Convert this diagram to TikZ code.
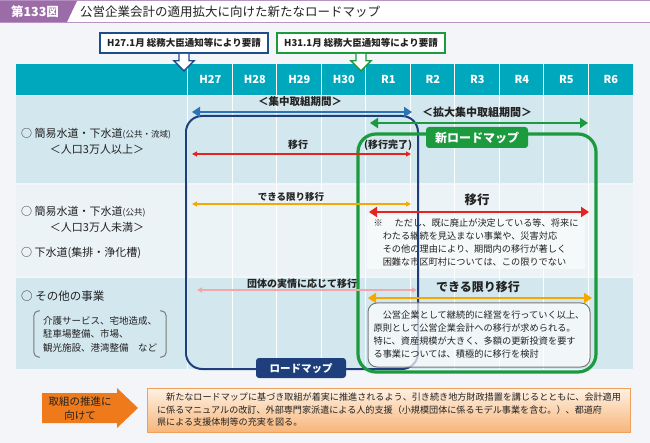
\documentclass[tikz,border=0pt]{standalone}
\usepackage{fontspec}
\setmainfont{Noto Sans CJK JP}
\usetikzlibrary{arrows.meta}
\definecolor{pagebg}{HTML}{F4F5F9}
\definecolor{titlepurple}{HTML}{9C6CA8}
\definecolor{titleline}{HTML}{B893C4}
\definecolor{headteal}{HTML}{00A8BE}
\definecolor{rowblue}{HTML}{D3E7EE}
\definecolor{rowpale}{HTML}{ECF3F6}
\definecolor{navy}{HTML}{1E3F7C}
\definecolor{callblue}{HTML}{1F4D8C}
\definecolor{newgreen}{HTML}{1B9B3E}
\definecolor{periodblue}{HTML}{2D74B7}
\definecolor{movered}{HTML}{E5241F}
\definecolor{tryorange}{HTML}{F5A900}
\definecolor{localpink}{HTML}{F2A8A8}
\definecolor{notegray}{HTML}{7A7A7A}
\definecolor{pushorange}{HTML}{EE7A1C}
\definecolor{planfilltop}{HTML}{FEF1E4}
\definecolor{planfillbot}{HTML}{F7B67A}
\definecolor{planborder}{HTML}{F0A05A}
\definecolor{darktext}{HTML}{222222}
\tikzset{
  band/.style={rectangle, inner sep=0pt, minimum width=617pt},
  yearcell/.style={rectangle, inner sep=0pt, fill=headteal, minimum width=44.5pt, minimum height=31pt, text=white, font=\fontsize{11}{13}\selectfont\bfseries},
  gridline/.style={draw=white, line width=1.2pt},
  callout/.style={rectangle, fill=white, line width=1.6pt, minimum width=168pt, minimum height=20pt, inner sep=0pt, text=darktext, font=\fontsize{9.5}{11}\selectfont\bfseries},
  callarrow/.style={fill=white, line width=1.4pt, line join=miter},
  mapframe/.style={rectangle, inner sep=0pt},
  maptag/.style={rectangle, rounded corners=3pt, text=white, inner sep=0pt, font=\fontsize{10.5}{12}\selectfont\bfseries},
  period/.style={inner sep=0pt, text=darktext, font=\fontsize{10.5}{12}\selectfont\bfseries},
  steplabel/.style={inner sep=0pt, text=darktext, font=\fontsize{10}{12}\selectfont\bfseries},
  biglabel/.style={inner sep=0pt, text=darktext, font=\fontsize{12.5}{14}\selectfont\bfseries},
  thickarrow/.style={{Triangle[length=8pt,width=10pt]}-{Triangle[length=8pt,width=10pt]}, line width=2.6pt},
  thinarrow/.style={{Triangle[length=5pt,width=5pt]}-{Triangle[length=5pt,width=5pt]}, line width=1.1pt},
  business/.style={anchor=west, inner sep=0pt, text=darktext, font=\fontsize{11}{13}\selectfont},
  population/.style={inner sep=0pt, text=darktext, font=\fontsize{11}{13}\selectfont},
  notetext/.style={align=left, text=darktext, font=\fontsize{9.2}{13}\selectfont}
}
\begin{document}
\begin{tikzpicture}[x=1pt, y=-1pt]
\useasboundingbox (0,0) rectangle (650,443);
\fill[pagebg] (0,0) rectangle (650,443);

% title band
\fill[white] (0,1) rectangle (650,22);
\draw[titleline, line width=1pt] (0,0.5) -- (650,0.5) (0,22.5) -- (650,22.5);
\fill[titlepurple] (0,1) -- (77,1) -- (67,22) -- (0,22) -- cycle;
\node[inner sep=0pt, text=white, font=\fontsize{12.5}{14}\selectfont\bfseries] (fignum) at (35,12) {第133図};
\node[anchor=west, inner sep=0pt, text=darktext, font=\fontsize{12.5}{14}\selectfont] (figtitle) at (80,12) {公営企業会計の適用拡大に向けた新たなロードマップ};

% table
\node[band, fill=headteal, minimum height=31pt] (head) at (324.5,79.5) {};
\node[band, fill=rowblue, minimum height=87pt] (band1) at (324.5,139.5) {};
\node[band, fill=rowpale, minimum height=91pt] (band2) at (324.5,230.5) {};
\node[band, fill=rowblue, minimum height=91pt] (band3) at (324.5,323.5) {};

\node[yearcell] (h27) at (210.25,79.5) {H27};
\node[yearcell] (h28) at (254.75,79.5) {H28};
\node[yearcell] (h29) at (299.25,79.5) {H29};
\node[yearcell] (h30) at (343.75,79.5) {H30};
\node[yearcell] (r1) at (388.25,79.5) {R1};
\node[yearcell] (r2) at (432.75,79.5) {R2};
\node[yearcell] (r3) at (477.25,79.5) {R3};
\node[yearcell] (r4) at (521.75,79.5) {R4};
\node[yearcell] (r5) at (566.25,79.5) {R5};
\node[yearcell] (r6) at (610.75,79.5) {R6};

\draw[gridline] (h27.north west) -- (h27.north west |- band3.south)
  (h28.north west) -- (h28.north west |- band3.south)
  (h29.north west) -- (h29.north west |- band3.south)
  (h30.north west) -- (h30.north west |- band3.south)
  (r1.north west) -- (r1.north west |- band3.south)
  (r2.north west) -- (r2.north west |- band3.south)
  (r3.north west) -- (r3.north west |- band3.south)
  (r4.north west) -- (r4.north west |- band3.south)
  (r5.north west) -- (r5.north west |- band3.south)
  (r6.north west) -- (r6.north west |- band3.south);

% notices
\node[callout, draw=callblue] (call27) at (184,43) {H27.1月 総務大臣通知等により要請};
\node[callout, draw=newgreen] (call31) at (361,43) {H31.1月 総務大臣通知等により要請};
\draw[callarrow, draw=callblue] ([xshift=-5pt]call27.south) -- ++(0,7) -- ++(-5,0) -- ++(10,10) -- ++(10,-10) -- ++(-5,0) -- ++(0,-7);
\draw[callarrow, draw=newgreen] ([xshift=-5pt]call31.south) -- ++(0,7) -- ++(-5,0) -- ++(10,10) -- ++(10,-10) -- ++(-5,0) -- ++(0,-7);

% row labels
\node[business] (water1) at (21,134) {○ 簡易水道・下水道{\fontsize{8.5}{10}\selectfont(公共・流域)}};
\node[population] (pop1) at (97,149) {＜人口3万人以上＞};
\node[business] (water2) at (21,212) {○ 簡易水道・下水道{\fontsize{8.5}{10}\selectfont(公共)}};
\node[population] (pop2) at (97,227) {＜人口3万人未満＞};
\node[business] (sewer2) at (21,253) {○ 下水道(集排・浄化槽)};
\node[business, font=\fontsize{11.5}{13}\selectfont] (other3) at (21,296) {○ その他の事業};
\node[notetext, font=\fontsize{9.5}{13.5}\selectfont, inner xsep=9pt, inner ysep=0pt, minimum height=46pt, minimum width=132pt] (otherlist) at (100,334)
  {介護サービス、宅地造成、\\駐車場整備、市場、\\観光施設、港湾整備　など};
\draw[notegray, line width=1pt, rounded corners=5pt] ([xshift=6pt]otherlist.north west) -- (otherlist.north west) -- (otherlist.south west) -- ([xshift=6pt]otherlist.south west);
\draw[notegray, line width=1pt, rounded corners=5pt] ([xshift=-6pt]otherlist.north east) -- (otherlist.north east) -- (otherlist.south east) -- ([xshift=-6pt]otherlist.south east);

% exception note
\node[notetext, fill=white, fill opacity=0.55, text opacity=1, minimum width=218pt, minimum height=54pt, inner sep=0pt] (except) at (476,242)
  {※\hspace{1.3em}ただし、既に廃止が決定している等、将来に\\\hspace*{1em}わたる継続を見込まない事業や、災害対応\\\hspace*{1em}その他の理由により、期間内の移行が著しく\\\hspace*{1em}困難な市区町村については、この限りでない};

% roadmaps
\node[mapframe, draw=navy, line width=2pt, rounded corners=16pt, minimum width=232pt, minimum height=253pt] (roadmap) at (302,242.5) {};
\node[mapframe, draw=newgreen, line width=3.2pt, rounded corners=18pt, minimum width=238pt, minimum height=238pt] (newmap) at (477,253) {};
\node[maptag, fill=navy, minimum width=90pt, minimum height=20pt] (roadmaptag) at (301,368) {ロードマップ};
\node[maptag, fill=newgreen, minimum width=102pt, minimum height=21pt, font=\fontsize{12}{14}\selectfont\bfseries] (newmaptag) at (477,137.5) {新ロードマップ};

% periods
\node[period] (focus) at (300,102) {＜集中取組期間＞};
\coordinate (focusW) at (192,112);
\coordinate (focusE) at (412,112);
\draw[thickarrow, color=periodblue] (focusW) -- (focusE);
\node[period, font=\fontsize{11}{13}\selectfont\bfseries] (expand) at (477,112) {＜拡大集中取組期間＞};
\coordinate (expandW) at (370,123);
\coordinate (expandE) at (588,123);
\draw[thickarrow, color=newgreen] (expandW) -- (expandE);

% row 1
\node[steplabel] (move1) at (298,145) {移行};
\node[steplabel] (done1) at (388,145) {(移行完了)};
\coordinate (move1W) at (192,154);
\coordinate (move1E) at (411,154);
\draw[thinarrow, color=movered] (move1W) -- (move1E);

% row 2
\node[steplabel, font=\fontsize{9.5}{12}\selectfont\bfseries] (try2) at (291,197) {できる限り移行};
\coordinate (try2W) at (192,204);
\coordinate (try2E) at (411,204);
\draw[thinarrow, color=tryorange] (try2W) -- (try2E);
\node[biglabel] (move2) at (477,200) {移行};
\coordinate (move2W) at (369,212);
\coordinate (move2E) at (589,212);
\draw[thickarrow, color=movered] (move2W) -- (move2E);

% row 3
\node[steplabel] (local3) at (302,284) {団体の実情に応じて移行};
\coordinate (local3W) at (197,290);
\coordinate (local3E) at (417,290);
\draw[thinarrow, color=localpink] (local3W) -- (local3E);
\node[biglabel, font=\fontsize{12}{14}\selectfont\bfseries] (try3) at (478,287) {できる限り移行};
\coordinate (try3W) at (368,298);
\coordinate (try3E) at (592,298);
\draw[thickarrow, color=tryorange] (try3W) -- (try3E);
\node[notetext, draw=notegray, line width=1pt, rounded corners=9pt, fill=white, fill opacity=0.7, text opacity=1, minimum width=222pt, minimum height=64pt, inner sep=0pt] (policy) at (479,335)
  {\hspace*{1em}公営企業として継続的に経営を行っていく以上、\\原則として公営企業会計への移行が求められる。\\特に、資産規模が大きく、多額の更新投資を要す\\る事業については、積極的に移行を検討};

% promotion
\fill[pushorange] (42,393) -- (117,393) -- (117,388) -- (138,408) -- (117,428) -- (117,423) -- (42,423) -- cycle;
\node[align=center, inner sep=0pt, text=darktext, font=\fontsize{10.5}{14}\selectfont] (push) at (80,408) {取組の推進に\\向けて};
\node[notetext, draw=planborder, line width=0.8pt, top color=planfilltop, bottom color=planfillbot, minimum width=483pt, minimum height=44pt, inner xsep=6pt, font=\fontsize{9.1}{12.5}\selectfont] (plan) at (389,410)
  {\hspace*{1em}新たなロードマップに基づき取組が着実に推進されるよう、引き続き地方財政措置を講じるとともに、会計適用\\に係るマニュアルの改訂、外部専門家派遣による人的支援（小規模団体に係るモデル事業を含む。）、都道府\\県による支援体制等の充実を図る。};

\end{tikzpicture}
\end{document}
